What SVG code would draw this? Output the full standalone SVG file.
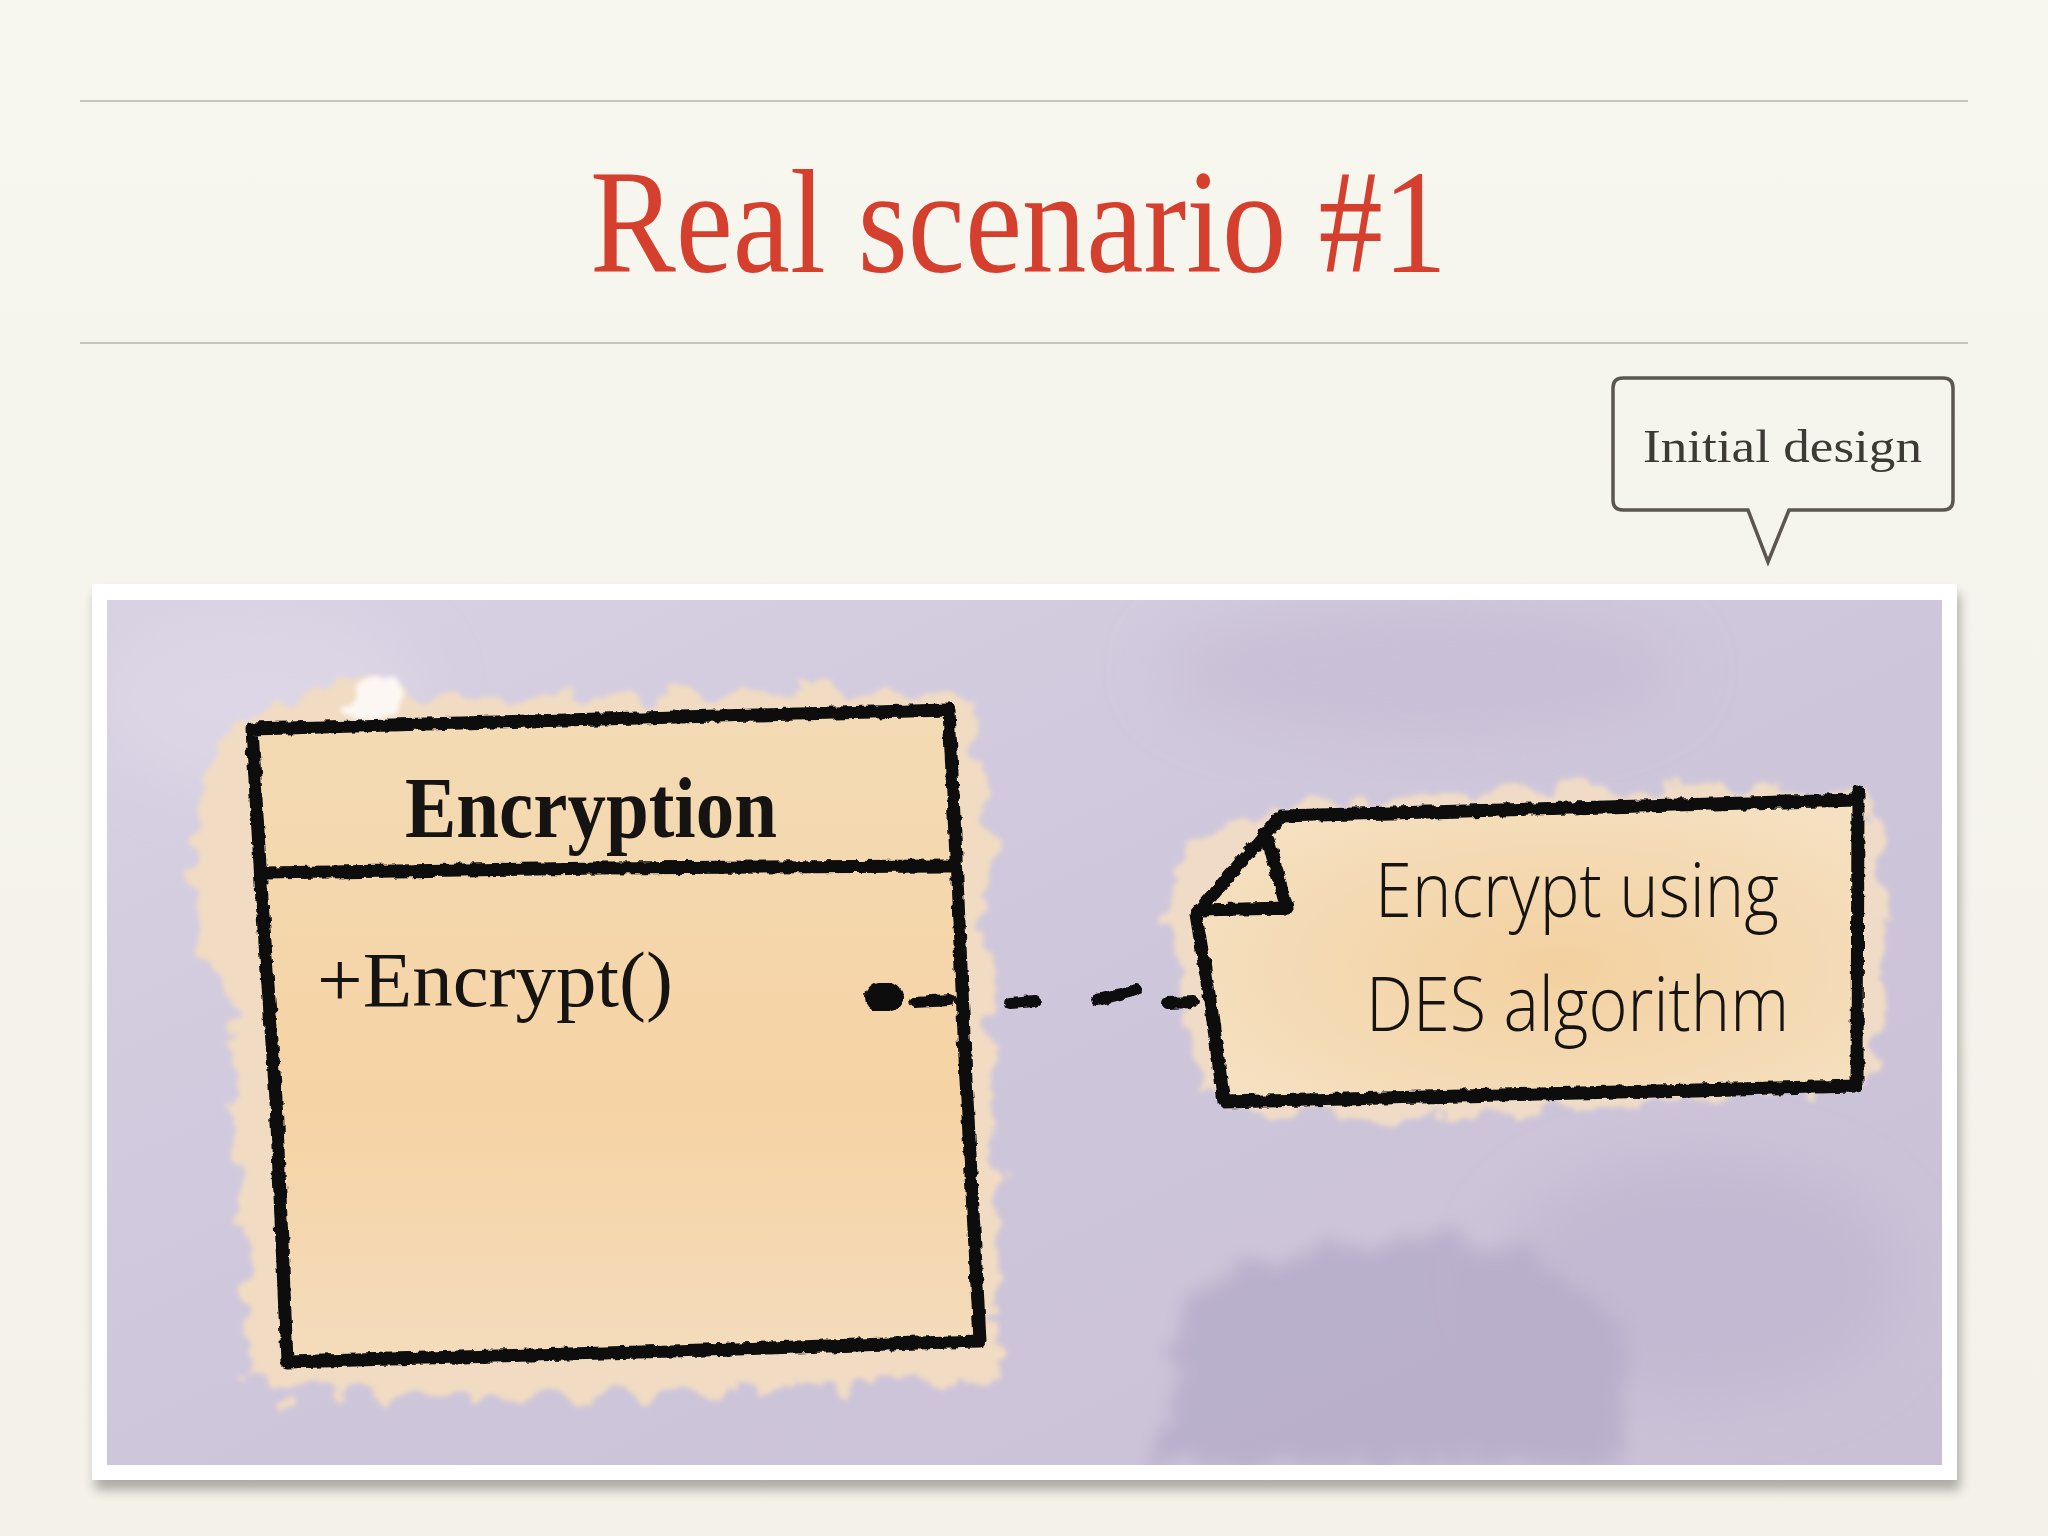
<svg xmlns="http://www.w3.org/2000/svg" width="2048" height="1536" viewBox="0 0 2048 1536">
<style>
.rule{stroke:#c6c5bb;stroke-width:2}
.ink{fill:none;stroke:#111;stroke-width:13;stroke-linejoin:round;stroke-linecap:round}
.dash{fill:none;stroke:#111;stroke-width:12;stroke-linecap:round}
.hand{font-family:"Liberation Serif","DejaVu Serif",serif;fill:#161412}
.notetext{font-family:"Open Sans","Noto Sans",sans-serif;font-weight:300;fill:#161412}
</style>
<defs>
 <filter id="rough" x="-5%" y="-5%" width="110%" height="110%">
  <feTurbulence type="fractalNoise" baseFrequency="0.12" numOctaves="2" seed="3" result="n"/>
  <feDisplacementMap in="SourceGraphic" in2="n" scale="6" xChannelSelector="R" yChannelSelector="G"/>
 </filter>
 <filter id="wash" x="-15%" y="-15%" width="130%" height="130%">
  <feTurbulence type="fractalNoise" baseFrequency="0.03" numOctaves="3" seed="7" result="n"/>
  <feDisplacementMap in="SourceGraphic" in2="n" scale="45" xChannelSelector="R" yChannelSelector="G" result="d"/>
  <feGaussianBlur in="d" stdDeviation="2.5"/>
 </filter>
 <filter id="wash2" x="-15%" y="-15%" width="130%" height="130%">
  <feTurbulence type="fractalNoise" baseFrequency="0.03" numOctaves="3" seed="11" result="n"/>
  <feDisplacementMap in="SourceGraphic" in2="n" scale="45" xChannelSelector="R" yChannelSelector="G" result="d"/>
  <feGaussianBlur in="d" stdDeviation="8"/>
 </filter>
 <filter id="soft" x="-30%" y="-30%" width="160%" height="160%"><feGaussianBlur stdDeviation="30"/></filter>
 <filter id="shadow" x="-5%" y="-5%" width="110%" height="115%">
  <feGaussianBlur in="SourceAlpha" stdDeviation="6"/>
  <feOffset dx="3" dy="10"/>
  <feComponentTransfer><feFuncA type="linear" slope="0.3"/></feComponentTransfer>
  <feMerge><feMergeNode/><feMergeNode in="SourceGraphic"/></feMerge>
 </filter>
 <clipPath id="pic"><rect x="107" y="600" width="1835" height="865"/></clipPath>
 <linearGradient id="bg" x1="0" y1="0" x2="0" y2="1">
  <stop offset="0" stop-color="#f7f6ef"/><stop offset="1" stop-color="#f3f1e8"/>
 </linearGradient>
 <linearGradient id="lav" x1="0" y1="0" x2="1" y2="1">
  <stop offset="0" stop-color="#d8d2e3"/><stop offset="0.5" stop-color="#cec6db"/><stop offset="1" stop-color="#c9c0d6"/>
 </linearGradient>
 <linearGradient id="peach" x1="0" y1="0" x2="0" y2="1">
  <stop offset="0" stop-color="#f3dbb5"/><stop offset="0.6" stop-color="#f6d3a4"/><stop offset="1" stop-color="#f4dcbc"/>
 </linearGradient>
 <radialGradient id="notefill" cx="0.55" cy="0.55" r="0.65">
  <stop offset="0" stop-color="#f3d09f"/><stop offset="1" stop-color="#f5e1c2"/>
 </radialGradient>
</defs>

<rect x="0" y="0" width="2048" height="1536" fill="url(#bg)"/>

<g id="header">
 <line class="rule" x1="80" y1="101" x2="1968" y2="101"/>
 <line class="rule" x1="80" y1="343" x2="1968" y2="343"/>
</g>

<g id="title">
 <text x="590" y="272" font-family="Liberation Serif, serif" font-size="148" fill="#d5402e" textLength="857" lengthAdjust="spacingAndGlyphs">Real scenario #1</text>
</g>

<g id="photo">
 <rect x="92" y="584" width="1865" height="896" fill="#ffffff" filter="url(#shadow)"/>
 <rect x="107" y="600" width="1835" height="865" fill="url(#lav)"/>
 <g clip-path="url(#pic)">
  <ellipse cx="1420" cy="670" rx="260" ry="70" fill="#c4bad3" opacity="0.6" filter="url(#soft)"/>
  <ellipse cx="1700" cy="1280" rx="200" ry="120" fill="#c3b9d2" filter="url(#soft)"/>
  <path d="M1180,1320 Q1200,1260 1260,1265 Q1320,1240 1380,1245 Q1440,1230 1500,1240 Q1580,1270 1625,1330 L1620,1465 L1160,1465 Z" fill="#b8aeca" opacity="0.9" filter="url(#wash2)"/>
  <ellipse cx="260" cy="700" rx="160" ry="90" fill="#dcd6e6" filter="url(#soft)"/>
 </g>
</g>

<g id="class-encryption">
 <path d="M195,860 Q200,760 240,720 L330,690 Q380,670 420,700 L960,690 Q1000,800 990,950 L1000,1380 Q700,1400 300,1395 Q230,1390 245,1300 L230,1000 Q190,950 195,860 Z" fill="#f1dbc2" filter="url(#wash)"/>
 <path d="M345,712 Q360,672 395,680 Q410,700 400,715 Z" fill="#ffffff" opacity="0.8" filter="url(#wash)"/>
 <path d="M252,729 L949,710 L980,1341 L287,1362 Z" fill="url(#peach)"/>
 <g filter="url(#rough)">
  <path class="ink" d="M252,729 L600,719 L949,710 L958,900 L966,1080 L980,1341 L640,1352 L287,1362 L276,1100 L262,900 Z"/>
  <path class="ink" d="M262,873 L600,868 L951,866"/>
 </g>
 <text class="hand" x="405" y="837" font-size="86" font-weight="bold" textLength="372" lengthAdjust="spacingAndGlyphs">Encryption</text>
 <text class="hand" x="317" y="1006" font-size="78" textLength="356" lengthAdjust="spacingAndGlyphs">+Encrypt()</text>
</g>

<g id="note">
 <path d="M1170,900 Q1180,840 1260,810 Q1500,780 1870,790 Q1890,900 1875,1080 Q1600,1120 1220,1115 Q1180,1050 1170,900 Z" fill="#f0dcc6" filter="url(#wash)"/>
 <path d="M1281,816 L1858,800 L1857,1086 L1224,1102 L1196,914 Z" fill="url(#notefill)"/>
 <g filter="url(#rough)">
  <path class="ink" d="M1281,816 L1570,808 L1858,800 M1858,792 L1857,1086 L1540,1094 L1224,1102 L1210,1000 L1196,914 L1281,816"/>
  <path class="ink" d="M1200,910 L1287,908 L1268,840"/>
 </g>
 <text class="notetext" x="1375" y="917" font-size="76" textLength="404" lengthAdjust="spacingAndGlyphs">Encrypt using</text>
 <text class="notetext" x="1366" y="1031" font-size="76" textLength="423" lengthAdjust="spacingAndGlyphs">DES algorithm</text>
</g>

<g id="connectors" filter="url(#rough)">
 <ellipse cx="884" cy="997" rx="15" ry="12" fill="#111" stroke="#111" stroke-width="8"/>
 <path class="dash" d="M915,1002 L950,1000"/>
 <path class="dash" d="M1010,1003 L1035,1001"/>
 <path class="dash" d="M1097,1000 L1136,990"/>
 <path class="dash" d="M1168,1003 L1193,1002"/>
</g>

<g id="callout">
 <path d="M1623,378 H1943 Q1953,378 1953,388 V500 Q1953,510 1943,510 H1789 L1768,562 L1748,510 H1623 Q1613,510 1613,500 V388 Q1613,378 1623,378 Z" fill="#f5f4ed" stroke="#5b5650" stroke-width="3.5" stroke-linejoin="miter"/>
 <text x="1643" y="462" font-family="Liberation Serif, serif" font-size="46" fill="#3d3935" textLength="279" lengthAdjust="spacingAndGlyphs">Initial design</text>
</g>
</svg>
